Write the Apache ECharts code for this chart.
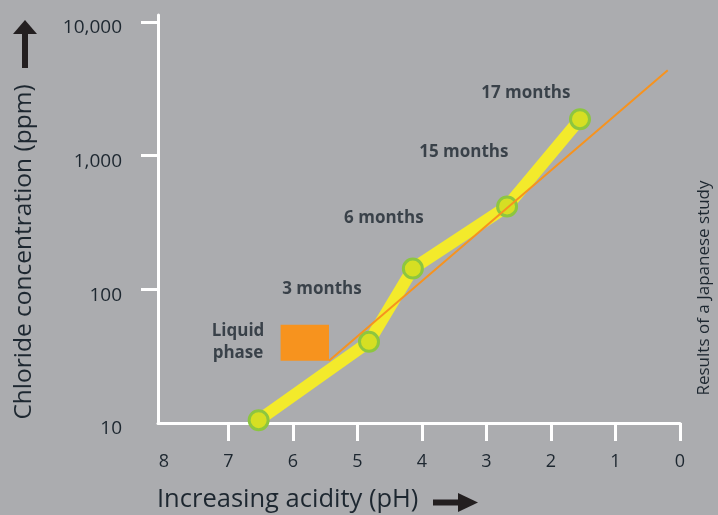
<!DOCTYPE html>
<html>
<head>
<meta charset="utf-8">
<script src="https://cdn.jsdelivr.net/npm/echarts@6/dist/echarts.min.js"></script>
<style>
  html, body { margin: 0; padding: 0; background: #abacaf; }
  #chart { width: 718px; height: 515px; }
</style>
</head>
<body>
<div id="chart"></div>
<script>
// Chloride concentration (ppm) versus pH over time
const phValues = [6.53, 4.82, 4.14, 2.68, 1.55];
const chlorideValues = [10.5, 40.5, 143, 417, 1875];

// Fitted trend line end points
const trendPh = [5.44, 0.19];
const trendChloride = [29.2, 4365];

// Liquid-phase block (pH range, chloride range)
const liquidPh = [6.19, 5.44];
const liquidChloride = [54.3, 29.2];

// Annotation texts and where they sit (pH, ppm)
const noteTexts = ['3 months', '6 months', '15 months', '17 months', 'Liquid\nphase'];
const notePh = [5.55, 4.59, 3.35, 2.39, 6.85];
const noteChloride = [100, 339, 1060, 2940, 40.5];

// Axis ticks
const phTicks = [0, 1, 2, 3, 4, 5, 6, 7];
const phTickLabels = [0, 1, 2, 3, 4, 5, 6, 7, 8];
const ppmTicks = [100, 1000, 10000];
const ppmTickLabels = [10, 100, 1000, 10000];

const TEXT = '#1d2730';
const FONT = '"Open Sans", "Noto Sans", sans-serif';

const chart = echarts.init(document.getElementById('chart'), null, { renderer: 'canvas' });

const option = {
  backgroundColor: '#abacaf',
  animation: false,
  grid: { left: 158, top: 15, width: 522, height: 408, containLabel: false },
  xAxis: {
    type: 'value',
    inverse: true,
    min: 0,
    max: 8.09,
    splitLine: { show: false },
    axisLine: { show: true, onZero: false, lineStyle: { color: '#ffffff', width: 3 } },
    axisTick: { show: true, customValues: phTicks, length: 18, lineStyle: { color: '#ffffff', width: 3 } },
    axisLabel: {
      customValues: phTickLabels,
      margin: 30,
      color: TEXT,
      fontFamily: FONT,
      fontSize: 18,
      formatter: v => String(v)
    }
  },
  yAxis: {
    type: 'log',
    logBase: 10,
    min: 10,
    max: 11285,
    position: 'left',
    splitLine: { show: false },
    axisLine: { show: true, onZero: false, lineStyle: { color: '#ffffff', width: 3 } },
    axisTick: { show: true, customValues: ppmTicks, length: 17, lineStyle: { color: '#ffffff', width: 3 } },
    axisLabel: {
      customValues: ppmTickLabels,
      margin: 36,
      color: TEXT,
      fontFamily: FONT,
      fontSize: 19,
      verticalAlign: 'top',
      lineHeight: 12,
      formatter: v => Math.round(v).toLocaleString('en-US')
    }
  },
  series: [
    {
      type: 'line',
      data: phValues.map((p, i) => [p, chlorideValues[i]]),
      showSymbol: false,
      symbol: 'none',
      lineStyle: { color: '#f3ea2b', width: 12, cap: 'round', join: 'round' },
      z: 2
    },
    {
      type: 'scatter',
      data: phValues.map((p, i) => [p, chlorideValues[i]]),
      symbol: 'circle',
      symbolSize: 19,
      itemStyle: { color: '#d6df23', borderColor: '#8dc63f', borderWidth: 3, opacity: 1 },
      z: 3
    },
    {
      type: 'line',
      data: trendPh.map((p, i) => [p, trendChloride[i]]),
      symbol: 'none',
      lineStyle: { color: '#f7931e', width: 2 },
      z: 4,
      markArea: {
        silent: true,
        itemStyle: { color: '#f7931e', opacity: 1 },
        data: [[
          { coord: [liquidPh[0], liquidChloride[0]] },
          { coord: [liquidPh[1], liquidChloride[1]] }
        ]]
      }
    },
    {
      type: 'scatter',
      data: noteTexts.map((t, i) => ({ name: t, value: [notePh[i], noteChloride[i]] })),
      symbolSize: 0,
      silent: true,
      z: 5,
      label: {
        show: true,
        position: 'inside',
        formatter: p => p.name,
        color: TEXT,
        fontFamily: FONT,
        fontWeight: 'bold',
        fontSize: 17,
        lineHeight: 22,
        align: 'center'
      }
    }
  ],
  graphic: [
    // y-axis title with its upward arrow
    {
      type: 'text',
      x: 24, y: 252,
      rotation: Math.PI / 2,
      style: {
        text: 'Chloride concentration (ppm)',
        fill: TEXT,
        font: '400 24.5px ' + FONT,
        align: 'center',
        verticalAlign: 'middle'
      }
    },
    {
      type: 'polygon',
      shape: { points: [[13, 34], [25, 20], [37, 34]] },
      style: { fill: '#231f20' }
    },
    {
      type: 'rect',
      shape: { x: 22, y: 33, width: 6, height: 35 },
      style: { fill: '#231f20' }
    },
    // x-axis title with its rightward arrow
    {
      type: 'text',
      x: 157, y: 500,
      style: {
        text: 'Increasing acidity (pH)',
        fill: TEXT,
        font: '400 25.5px ' + FONT,
        align: 'left',
        verticalAlign: 'middle'
      }
    },
    {
      type: 'rect',
      shape: { x: 433, y: 499.5, width: 27, height: 6 },
      style: { fill: '#231f20' }
    },
    {
      type: 'polygon',
      shape: { points: [[458, 493], [478, 502.5], [458, 512]] },
      style: { fill: '#231f20' }
    },
    // source note on the right edge
    {
      type: 'text',
      x: 704, y: 288,
      rotation: Math.PI / 2,
      style: {
        text: 'Results of a Japanese study',
        fill: TEXT,
        font: '400 17px ' + FONT,
        align: 'center',
        verticalAlign: 'middle'
      }
    }
  ]
};

chart.setOption(option);
</script>
</body>
</html>
